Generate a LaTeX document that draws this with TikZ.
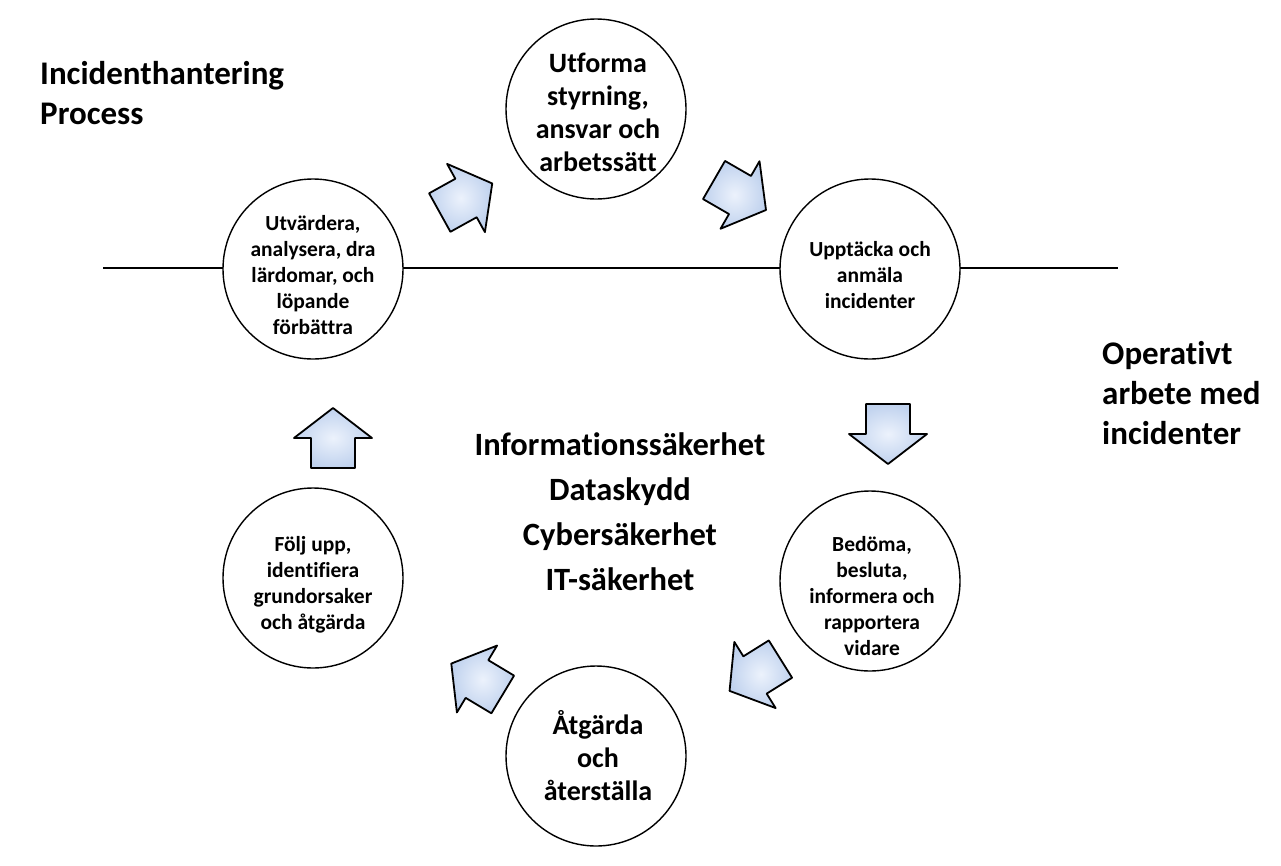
\documentclass[tikz,border=0pt]{standalone}
\usepackage{fontspec}
\setmainfont{Carlito}[Ligatures=NoCommon]
\tikzset{
  circ/.style={draw=black, line width=1.4pt, fill=white, circle, minimum size=180pt, inner sep=0pt},
  bigtxt/.style={font=\bfseries\fontsize{28}{33}\selectfont, align=center, inner sep=0pt},
  smalltxt/.style={font=\bfseries\fontsize{21.5}{26}\selectfont, align=center, inner sep=0pt},
  title/.style={font=\bfseries\fontsize{33}{40}\selectfont, align=left, inner sep=0pt, anchor=north west},
  centertxt/.style={font=\bfseries\fontsize{32.5}{45}\selectfont, align=center, inner sep=0pt},
  blockarrow/.style={draw=black, line width=1.8pt, line join=round,
    inner color={rgb,255:red,236;green,242;blue,252}, outer color={rgb,255:red,192;green,210;blue,238}},
  barrow/.pic={
    \path[blockarrow] (-30,-22) -- (0,-22) -- (0,-39) -- (30,0) -- (0,39) -- (0,22) -- (-30,22) -- cycle;
  }
}
\begin{document}
\begin{tikzpicture}[x=1pt,y=-1pt]
\useasboundingbox[fill=white] (0,0) rectangle (1281,865);
% horizontal line
\coordinate (hl) at (103,268);
\coordinate (hr) at (1118,268);
\draw[line width=1.4pt] (hl) -- (hr);
% circles
\node[circ] (t)  at (596,109) {};
\node[circ] (ur) at (870,269) {};
\node[circ] (lr) at (870,581) {};
\node[circ] (b)  at (596,756) {};
\node[circ] (ll) at (313,578) {};
\node[circ] (ul) at (313,269) {};
% circle texts
\node[bigtxt] (tt) at (598,112) {Utforma\\styrning,\\ansvar och\\arbetssätt};
\node[smalltxt] (urt) at (870,275) {Upptäcka och\\anmäla\\incidenter};
\node[smalltxt] (lrt) at (872,596) {Bedöma,\\besluta,\\informera och\\rapportera\\vidare};
\node[bigtxt] (bt) at (598,756) {Åtgärda\\och\\återställa};
\node[smalltxt] (llt) at (313,585) {Följ upp,\\identifiera\\grundorsaker\\och åtgärda};
\node[smalltxt] (ult) at (313,275) {Utvärdera,\\analysera, dra\\lärdomar, och\\löpande\\förbättra};
% arrows
\pic[rotate=29] (a1) at (466,198) {barrow};
\pic[rotate=-30] (a2) at (740,195) {barrow};
\pic[rotate=-90] (a3) at (888,434) {barrow};
\pic[rotate=-148] (a4) at (755,675) {barrow};
\pic[rotate=-211] (a5) at (477,679) {barrow};
\pic[rotate=90] (a6) at (333,438) {barrow};
% titles
\node[title] (t1) at (40,61) {Incidenthantering\\Process};
\node[title] (t2) at (1102,341) {Operativt\\arbete med\\incidenter};
\node[centertxt] (ct) at (620,512) {Informationssäkerhet\\Dataskydd\\Cybersäkerhet\\IT-säkerhet};
\end{tikzpicture}
\end{document}
